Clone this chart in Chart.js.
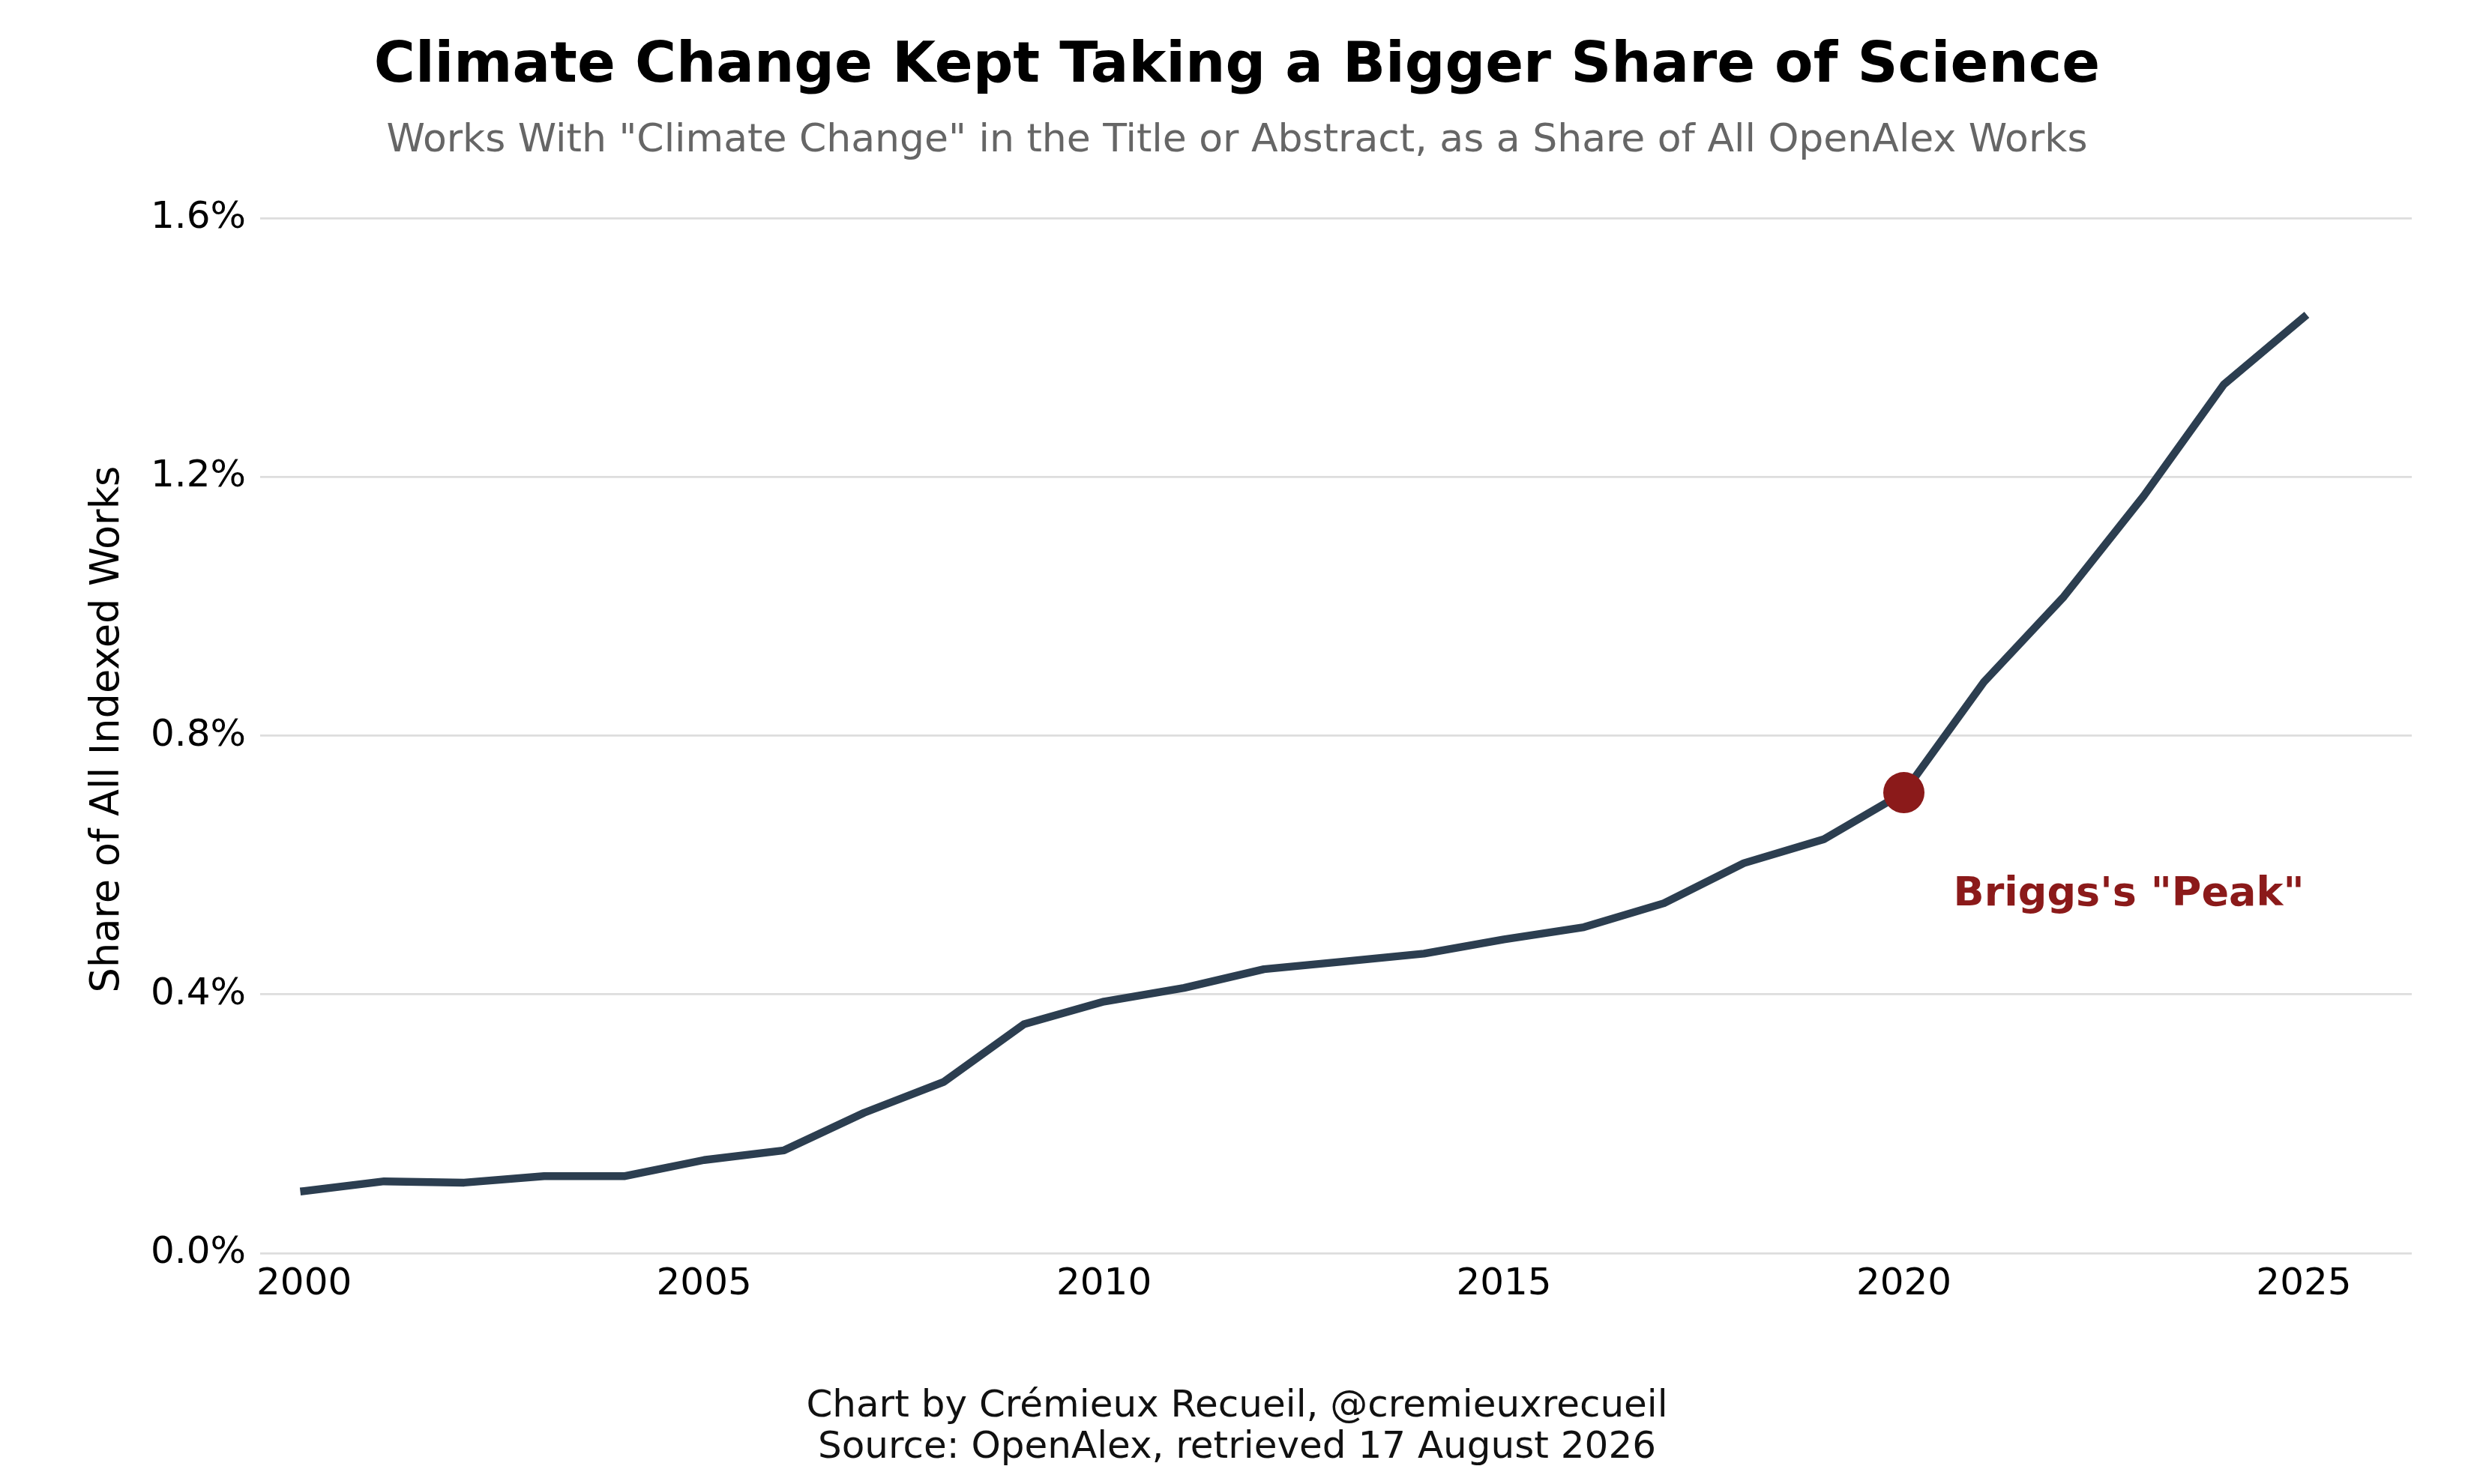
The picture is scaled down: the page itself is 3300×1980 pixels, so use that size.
<!DOCTYPE html>
<html>
<head>
<meta charset="utf-8">
<script src="https://cdn.jsdelivr.net/npm/chart.js@4"></script>
<style>
  html, body { margin: 0; padding: 0; background: #ffffff; }
  #wrap { width: 3300px; height: 1980px; }
</style>
</head>
<body>
<div id="wrap"><canvas id="climate-chart" width="3300" height="1980"></canvas></div>
<script>
// data
const years = [2000, 2001, 2002, 2003, 2004, 2005, 2006, 2007, 2008, 2009,
               2010, 2011, 2012, 2013, 2014, 2015, 2016, 2017, 2018, 2019,
               2020, 2021, 2022, 2023, 2024, 2025];
const sharePct = [0.096, 0.111, 0.109, 0.119, 0.119, 0.144, 0.159, 0.217, 0.265, 0.354,
                  0.389, 0.410, 0.439, 0.451, 0.463, 0.485, 0.504, 0.541, 0.603, 0.640,
                  0.712, 0.883, 1.015, 1.171, 1.343, 1.447];
const xTicks = [2000, 2005, 2010, 2015, 2020, 2025];
const yTicks = [0, 0.4, 0.8, 1.2, 1.6];
const peakYear = 2020;
const peakLabel = 'Briggs\'s "Peak"';

const titleText = 'Climate Change Kept Taking a Bigger Share of Science';
const subtitleText = 'Works With "Climate Change" in the Title or Abstract, as a Share of All OpenAlex Works';
const yAxisText = 'Share of All Indexed Works';
const footerLines = ['Chart by Crémieux Recueil, @cremieuxrecueil',
                     'Source: OpenAlex, retrieved 17 August 2026'];

const FONT = '"DejaVu Sans", "Liberation Sans", sans-serif';
const LINE_COLOR = '#2c3e50';
const PEAK_COLOR = '#8b1a1a';

const points = years.map((y, i) => ({ x: y, y: sharePct[i] }));
const peakPoint = [{ x: peakYear, y: sharePct[years.indexOf(peakYear)] }];

// title, subtitle, axis label, footer and annotation
const textPlugin = {
    id: 'chartTexts',
    afterDraw(chart) {
        const ctx = chart.ctx;
        const area = chart.chartArea;
        const cx = chart.width / 2;
        ctx.save();
        ctx.textAlign = 'center';
        ctx.textBaseline = 'alphabetic';

        ctx.fillStyle = '#000000';
        ctx.font = 'bold 75px ' + FONT;
        ctx.fillText(titleText, cx, 109);

        ctx.fillStyle = '#666666';
        ctx.font = '52px ' + FONT;
        ctx.fillText(subtitleText, cx, 202);

        ctx.fillStyle = '#111111';
        ctx.font = '50px ' + FONT;
        ctx.fillText(footerLines[0], cx, 1890);
        ctx.fillText(footerLines[1], cx, 1945);

        // rotated y axis label
        ctx.save();
        ctx.translate(158, (area.top + area.bottom) / 2);
        ctx.rotate(-Math.PI / 2);
        ctx.fillStyle = '#000000';
        ctx.font = '52.5px ' + FONT;
        ctx.fillText(yAxisText, 0, 0);
        ctx.restore();

        // annotation next to the highlighted point
        const xs = chart.scales.x;
        const ys = chart.scales.y;
        const px = xs.getPixelForValue(peakPoint[0].x);
        const py = ys.getPixelForValue(peakPoint[0].y);
        ctx.textAlign = 'left';
        ctx.fillStyle = PEAK_COLOR;
        ctx.font = 'bold 54px ' + FONT;
        ctx.fillText(peakLabel, px + 66, py + 150);
        ctx.restore();
    }
};

const config = {
    type: 'line',
    data: {
        datasets: [
            {
                label: 'Peak',
                data: peakPoint,
                showLine: false,
                pointRadius: 27.5,
                pointHoverRadius: 27.5,
                pointBackgroundColor: PEAK_COLOR,
                pointBorderWidth: 0,
                order: 0
            },
            {
                label: 'Share',
                data: points,
                borderColor: LINE_COLOR,
                borderWidth: 10.4,
                borderJoinStyle: 'round',
                borderCapStyle: 'square',
                pointRadius: 0,
                tension: 0,
                fill: false,
                order: 1
            }
        ]
    },
    options: {
        responsive: false,
        animation: false,
        devicePixelRatio: 1,
        layout: { padding: { top: 274, right: 83, bottom: 0, left: 0 } },
        plugins: {
            legend: { display: false },
            tooltip: { enabled: false },
            title: { display: false }
        },
        scales: {
            x: {
                type: 'linear',
                min: 1999.45,
                max: 2026.35,
                afterBuildTicks: (scale) => { scale.ticks = xTicks.map(v => ({ value: v })); },
                afterFit: (scale) => { scale.height = 308; },
                grid: { display: false, drawTicks: false },
                border: { display: false },
                ticks: {
                    padding: 12,
                    color: '#000000',
                    font: { family: FONT, size: 50 },
                    maxRotation: 0,
                    callback: (v) => String(v)
                }
            },
            y: {
                type: 'linear',
                min: 0,
                max: 1.62,
                afterBuildTicks: (scale) => { scale.ticks = yTicks.map(v => ({ value: v })); },
                afterFit: (scale) => { scale.width = 347; },
                grid: { color: '#dddddd', lineWidth: 2.7, drawTicks: false },
                border: { display: false },
                ticks: {
                    padding: 19,
                    color: '#000000',
                    font: { family: FONT, size: 50 },
                    callback: (v) => v.toFixed(1) + '%'
                }
            }
        }
    },
    plugins: [textPlugin]
};

const climateChart = new Chart(document.getElementById('climate-chart'), config);
</script>
</body>
</html>
